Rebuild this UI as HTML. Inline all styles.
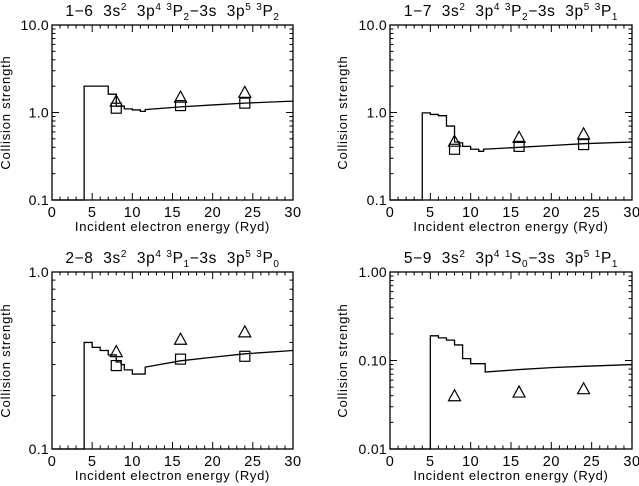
<!DOCTYPE html>
<html><head><meta charset="utf-8"><style>
body{margin:0;background:#fff}
svg{display:block;font-family:"Liberation Sans","DejaVu Sans",sans-serif}
.pre{white-space:pre}
</style></head><body>
<svg id="c" width="639" height="486" viewBox="0 0 639 486"></svg>
<script>
// Panel data
const p1StepX=[4,7,8,9,10,11,11.6];
const p1StepY=[2.0,1.62,1.18,1.1,1.07,1.03];
const p1LineX=[11.6,16,20,24,30];
const p1LineY=[1.08,1.16,1.22,1.28,1.35];
const p1SqY=[1.12,1.2,1.28];
const p1TriY=[1.35,1.5,1.7];

const p2StepX=[4,5,6,7,8,8.6,9,10,11,11.6];
const p2StepY=[0.99,0.95,0.92,0.70,0.46,0.45,0.41,0.38,0.36];
const p2LineX=[11.6,16,20,24,30];
const p2LineY=[0.38,0.40,0.42,0.44,0.46];
const p2SqY=[0.38,0.41,0.43];
const p2TriY=[0.47,0.52,0.57];

const p3StepX=[4,5,6,7,8,8.6,9,10,11.6];
const p3StepY=[0.40,0.375,0.36,0.34,0.31,0.30,0.28,0.265];
const p3LineX=[11.6,16,20,24,30];
const p3LineY=[0.29,0.315,0.33,0.345,0.36];
const p3SqY=[0.296,0.322,0.334];
const p3TriY=[0.355,0.417,0.459];

const p5StepX=[5,6,7,8,9,10,11.8];
const p5StepY=[0.19,0.18,0.17,0.15,0.105,0.092];
const p5LineX=[11.8,16,20,24,30];
const p5LineY=[0.074,0.079,0.083,0.086,0.09];
const p5SqY=[];
const p5TriY=[0.04,0.044,0.048];

const markX=[8,16,24];
const xTicks=[0,5,10,15,20,25,30];

const NS="http://www.w3.org/2000/svg";
const svg=document.getElementById('c');
function el(t,a,p){const e=document.createElementNS(NS,t);for(const k in a)e.setAttribute(k,a[k]);(p||svg).appendChild(e);return e;}

function panel(o){
  const g=el('g',{});
  
  
  const X=v=>o.x0+(v/30)*(o.x1-o.x0);
  const lmin=Math.log10(o.ymin),lmax=Math.log10(o.ymax);
  const Y=v=>o.y1-(Math.log10(v)-lmin)/(lmax-lmin)*(o.y1-o.y0);
  const t=el('text',{x:(o.x0+o.x1)/2,y:o.y0-9,'text-anchor':'middle','font-size':15.5,'letter-spacing':0.6,fill:'#000',class:'pre'},g);
  
  
  t.innerHTML=o.title;
  const f=el('rect',{x:o.x0,y:o.y0,width:o.x1-o.x0,height:o.y1-o.y0,fill:'none',stroke:'#000','stroke-width':1.3},g);
  
  
  for(let v=0;v<=30;v++){
    const L=v%5===0?7:3.5;
    el('line',{x1:X(v),x2:X(v),y1:o.y1,y2:o.y1-L,stroke:'#000'},g);
    el('line',{x1:X(v),x2:X(v),y1:o.y0,y2:o.y0+L,stroke:'#000'},g);
  }
  xTicks.forEach(v=>{
    const tl=el('text',{x:X(v),y:o.y1+17,'text-anchor':'middle','font-size':14.5,'letter-spacing':0.5},g);
    
    
    tl.textContent=v;
  });
  for(let d=lmin;d<lmax;d++){
    for(let m=1;m<10;m++){
      const v=Math.pow(10,d)*m,L=m===1?7:3.5;
      el('line',{x1:o.x0,x2:o.x0+L,y1:Y(v),y2:Y(v),stroke:'#000'},g);
      el('line',{x1:o.x1,x2:o.x1-L,y1:Y(v),y2:Y(v),stroke:'#000'},g);
    }
  }
  o.yLabels.forEach(s=>{
    const yl=el('text',{x:o.x0-3,y:Y(parseFloat(s))+5,'text-anchor':'end','font-size':14,'letter-spacing':0.3},g);
    
    
    yl.textContent=s;
  });
  const xt=el('text',{x:(o.x0+o.x1)/2,y:o.y1+31,'text-anchor':'middle','font-size':13,'letter-spacing':0.7},g);
  
  
  xt.textContent='Incident electron energy (Ryd)';
  const cy=(o.y0+o.y1)/2;
  const yt=el('text',{x:o.yx,y:cy,'text-anchor':'middle','font-size':13,'letter-spacing':0.8,transform:`rotate(-90 ${o.yx} ${cy})`},g);
  
  
  yt.textContent='Collision strength';
  let d=`M${X(0)},${Y(o.ymin)} L${X(o.sx[0])},${Y(o.ymin)}`;
  for(let i=0;i<o.sy.length;i++){d+=` L${X(o.sx[i])},${Y(o.sy[i])} L${X(o.sx[i+1])},${Y(o.sy[i])}`;}
  o.lx.forEach((v,i)=>{d+=` L${X(v)},${Y(o.ly[i])}`;});
  const c=el('path',{d:d,fill:'none',stroke:'#000','stroke-width':1.3},g);
  
  
  o.sq.forEach((v,i)=>{
    const s=el('rect',{x:X(markX[i])-5,y:Y(v)-5,width:10,height:10,fill:'none',stroke:'#000','stroke-width':1.2},g);
    
    
  });
  o.tri.forEach((v,i)=>{
    const cx=X(markX[i]),yy=Y(v);
    const tr=el('polygon',{points:`${cx-6},${yy+5} ${cx+6},${yy+5} ${cx},${yy-6}`,fill:'none',stroke:'#000','stroke-width':1.2},g);
    
    
  });
}
const sp=(a,b)=>`<tspan dy="-6" font-size="10">${a}</tspan><tspan dy="6">${b}</tspan>`;
const sb=(a,b)=>`<tspan dy="4" font-size="10">${a}</tspan><tspan dy="-4">${b}</tspan>`;
panel({name:'panel-1-6',x0:52,x1:293,y0:25,y1:200,ymin:0.1,ymax:10,yx:10,yLabels:['10.0','1.0','0.1'],
 title:`1−6  3s${sp('2','  3p')}${sp('4',' ')}${sp('3','P')}${sb('2','−3s  3p')}${sp('5',' ')}${sp('3','P')}${sb('2','')}`,
 sx:p1StepX,sy:p1StepY,lx:p1LineX,ly:p1LineY,sq:p1SqY,tri:p1TriY});
panel({name:'panel-1-7',x0:390,x1:632,y0:25,y1:200,ymin:0.1,ymax:10,yx:347,yLabels:['10.0','1.0','0.1'],
 title:`1−7  3s${sp('2','  3p')}${sp('4',' ')}${sp('3','P')}${sb('2','−3s  3p')}${sp('5',' ')}${sp('3','P')}${sb('1','')}`,
 sx:p2StepX,sy:p2StepY,lx:p2LineX,ly:p2LineY,sq:p2SqY,tri:p2TriY});
panel({name:'panel-2-8',x0:52,x1:293,y0:272,y1:449,ymin:0.1,ymax:1,yx:10,yLabels:['1.0','0.1'],
 title:`2−8  3s${sp('2','  3p')}${sp('4',' ')}${sp('3','P')}${sb('1','−3s  3p')}${sp('5',' ')}${sp('3','P')}${sb('0','')}`,
 sx:p3StepX,sy:p3StepY,lx:p3LineX,ly:p3LineY,sq:p3SqY,tri:p3TriY});
panel({name:'panel-5-9',x0:390,x1:632,y0:272,y1:449,ymin:0.01,ymax:1,yx:347,yLabels:['1.00','0.10','0.01'],
 title:`5−9  3s${sp('2','  3p')}${sp('4',' ')}${sp('1','S')}${sb('0','−3s  3p')}${sp('5',' ')}${sp('1','P')}${sb('1','')}`,
 sx:p5StepX,sy:p5StepY,lx:p5LineX,ly:p5LineY,sq:p5SqY,tri:p5TriY});
</script>
</body></html>
